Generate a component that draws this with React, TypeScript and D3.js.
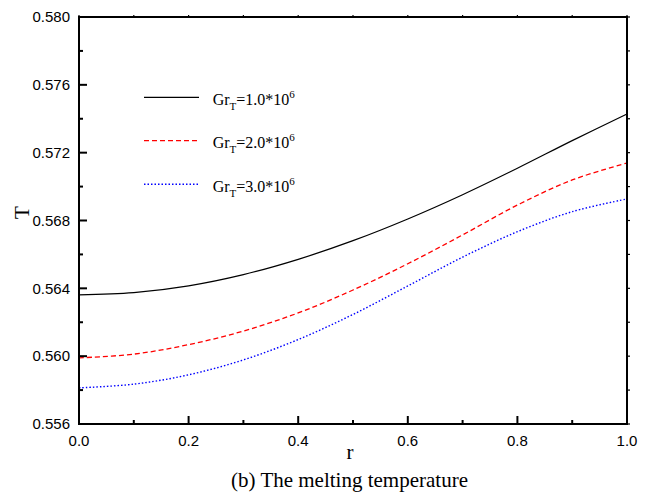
import React from "react";
import * as d3 from "d3";

const rValues = [0, 0.1, 0.2, 0.3, 0.4, 0.5, 0.6, 0.7, 0.8, 0.9, 1.0];
const tGr1 = [0.56362, 0.56375, 0.56415, 0.56481, 0.56571, 0.56681, 0.56809, 0.56952, 0.57108, 0.57271, 0.57428];
const tGr2 = [0.5599, 0.56012, 0.56068, 0.56148, 0.56255, 0.5639, 0.56545, 0.56715, 0.56891, 0.57039, 0.57139];
const tGr3 = [0.55813, 0.55835, 0.5589, 0.55978, 0.56098, 0.56246, 0.56414, 0.56584, 0.56734, 0.56852, 0.56927];
const seriesLabels = ["1.0", "2.0", "3.0"];
const xTickValues = [0, 0.2, 0.4, 0.6, 0.8, 1.0];
const xMinorTicks = [0.1, 0.3, 0.5, 0.7, 0.9];
const yTickValues = [0.556, 0.56, 0.564, 0.568, 0.572, 0.576, 0.58];
const yMinorTicks = [0.558, 0.562, 0.566, 0.57, 0.574, 0.578];

const W = 651, H = 494;
const L = 79, R = 627, T = 17, B = 424;

export default function App() {
  const x = d3.scaleLinear().domain([0, 1]).range([L, R]);
  const y = d3.scaleLinear().domain([0.556, 0.58]).range([B, T]);
  const line = d3.line<number>()
    .x((_, i) => x(rValues[i]))
    .y((d) => y(d))
    .curve(d3.curveCatmullRom.alpha(0.5));

  const series = [
    { data: tGr1, color: "#000", dash: undefined as string | undefined, width: 1.2 },
    { data: tGr2, color: "#ff0000", dash: "5,3", width: 1.3 },
    { data: tGr3, color: "#0000ff", dash: "1.5,2", width: 1.4 },
  ];
  const legendY = [97.3, 140.7, 184.3];
  const sans = "'Liberation Sans', Arial, sans-serif";
  const serif = "'Liberation Serif', 'Times New Roman', serif";

  return (
    <svg width={W} height={H} style={{ position: "absolute", left: 0, top: 0, background: "#fff" }}>
      <rect x={0} y={0} width={W} height={H} fill="#fff" />
      {series.map((s, i) => (
        <path key={i} d={line(s.data) || ""} fill="none" stroke={s.color}
          strokeWidth={s.width} strokeDasharray={s.dash} />
      ))}
      {/* frame */}
      <rect x={L} y={T} width={R - L} height={B - T} fill="none" stroke="#000" strokeWidth={2} />
      {/* left ticks */}
      {yTickValues.map((v) => (
        <line key={"yl" + v} x1={L} x2={L + 8} y1={y(v)} y2={y(v)} stroke="#000" strokeWidth={2} />
      ))}
      {yMinorTicks.map((v) => (
        <line key={"ylm" + v} x1={L} x2={L + 4} y1={y(v)} y2={y(v)} stroke="#000" strokeWidth={2} />
      ))}
      {/* right ticks */}
      {[...yTickValues, ...yMinorTicks].map((v) => (
        <line key={"yr" + v} x1={R} x2={R + 3} y1={y(v)} y2={y(v)} stroke="#000" strokeWidth={1.2} />
      ))}
      {/* bottom ticks */}
      {xTickValues.map((v) => (
        <line key={"xb" + v} x1={x(v)} x2={x(v)} y1={B} y2={B - 8} stroke="#000" strokeWidth={2} />
      ))}
      {xMinorTicks.map((v) => (
        <line key={"xbm" + v} x1={x(v)} x2={x(v)} y1={B} y2={B - 4} stroke="#000" strokeWidth={2} />
      ))}
      {/* top ticks */}
      {[...xTickValues, ...xMinorTicks].map((v) => (
        <line key={"xt" + v} x1={x(v)} x2={x(v)} y1={T} y2={T - 2} stroke="#000" strokeWidth={1.2} />
      ))}
      {/* y tick labels */}
      {yTickValues.map((v) => (
        <text key={"ylab" + v} x={70} y={y(v) + 5.3} textAnchor="end" fontFamily={sans} fontSize={15} fill="#000">
          {d3.format(".3f")(v)}
        </text>
      ))}
      {/* x tick labels */}
      {xTickValues.map((v) => (
        <text key={"xlab" + v} x={x(v)} y={445.7} textAnchor="middle" fontFamily={sans} fontSize={15} fill="#000">
          {d3.format(".1f")(v)}
        </text>
      ))}
      {/* axis labels */}
      <text x={350} y={459} textAnchor="middle" fontFamily={serif} fontSize={21} fill="#000">r</text>
      <text transform="translate(29.3,212.5) rotate(-90)" textAnchor="middle" fontFamily={serif} fontSize={21} fill="#000">T</text>
      <text x={349.5} y={486.7} textAnchor="middle" fontFamily={serif} fontSize={21} fill="#000">(b) The melting temperature</text>
      {/* legend */}
      {series.map((s, i) => (
        <g key={"lg" + i}>
          <line x1={144} x2={199} y1={legendY[i]} y2={legendY[i]} stroke={s.color}
            strokeWidth={s.width} strokeDasharray={s.dash} />
          <text x={212.7} y={legendY[i] + 7.7} fontFamily={serif} fontSize={16} fill="#000">
            Gr
            <tspan fontSize={11} dy={4.5}>T</tspan>
            <tspan dy={-4.5}>={seriesLabels[i]}*10</tspan>
            <tspan fontSize={11} dy={-7}>6</tspan>
          </text>
        </g>
      ))}
    </svg>
  );
}
